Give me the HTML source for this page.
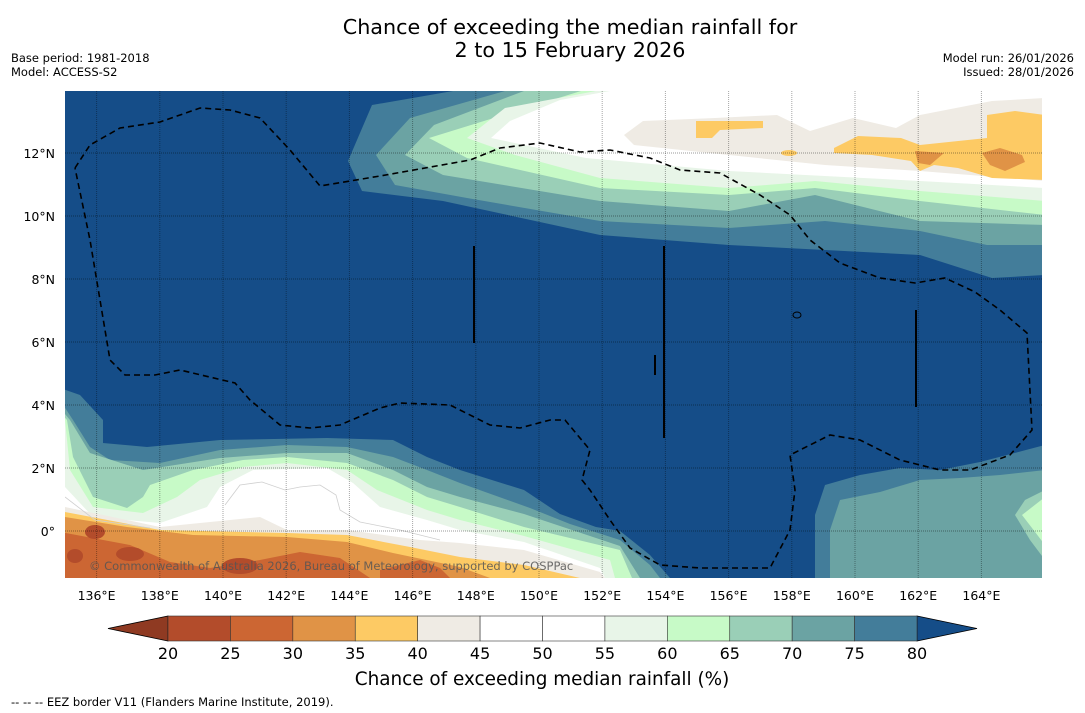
<!DOCTYPE html>
<html><head><meta charset="utf-8"><style>
body{margin:0;background:#fff;width:1085px;height:713px;overflow:hidden;font-family:"DejaVu Sans","Liberation Sans",sans-serif}
svg{position:absolute;left:0;top:0;font-family:"DejaVu Sans","Liberation Sans",sans-serif}
</style></head><body>
<svg id="s" width="1085" height="713" viewBox="0 0 1085 713">
<defs><clipPath id="c"><rect x="65" y="91" width="977" height="487"/></clipPath></defs>
<text x="570" y="34" font-size="20.7" text-anchor="middle">Chance of exceeding the median rainfall for</text>
<text x="570" y="57" font-size="20.7" text-anchor="middle">2 to 15 February 2026</text>
<text x="11" y="62" font-size="11.5">Base period: 1981-2018</text>
<text x="11" y="76" font-size="11.5">Model: ACCESS-S2</text>
<text x="1074" y="62" font-size="11.5" text-anchor="end">Model run: 26/01/2026</text>
<text x="1074" y="76" font-size="11.5" text-anchor="end">Issued: 28/01/2026</text>
<g clip-path="url(#c)">
<rect x="65" y="91" width="977" height="487" fill="#154d88"/>
<g>
<polygon fill="#437d9a" points="453,91 372,105 348,161 362,191 443,201 600,235 729,245 920,255 992,278 1045,275 1045,91"/>
<polygon fill="#6ba3a3" points="505,91 410,118 376,155 395,185 467,198 600,221 729,228 825,221 920,231 987,245 1045,245 1045,91"/>
<polygon fill="#9acfb7" points="524,91 434,125 405,155 443,175 600,201 729,211 815,195 920,221 1045,225 1045,91"/>
<polygon fill="#c7fac7" points="581,91 429,138 467,158 600,188 729,195 815,188 920,201 1045,215 1045,91"/>
<polygon fill="#e8f5e8" points="596,91 505,108 467,138 515,155 600,178 729,188 815,181 920,191 1045,201 1045,91"/>
<polygon fill="#ffffff" points="610,91 560,100 510,121 491,138 586,158 729,171 920,181 1045,188 1045,91"/>
<polygon fill="#efebe4" points="624,135 643,121 715,118 777,115 810,131 853,118 896,128 920,115 992,101 1045,98 1045,181 920,171 825,165 729,155 634,145"/>
<polygon fill="#fdca64" points="696,121 763,121 763,128 720,130 712,138 696,138"/>
<polygon fill="#fdca64" points="834,148 858,136 901,138 920,145 987,138 987,115 1015,111 1045,115 1045,180 992,178 958,168 934,165 920,171 911,161 872,155 834,153"/>
<ellipse cx="789" cy="153" rx="8" ry="3" fill="#fdca64"/>
<polygon fill="#e09346" points="915,151 944,153 930,165 918,163"/>
<polygon fill="#e09346" points="982,153 1000,148 1022,155 1025,162 1005,171 990,165"/>
</g>
<g>
<polygon fill="#437d9a" points="60,388 80,395 103,420 103,443 147,447 220,440 327,438 393,440 427,457 460,470 524,490 560,514 596,527 620,531 650,555 670,578 60,578"/>
<polygon fill="#6ba3a3" points="60,400 73,420 90,447 110,460 160,463 220,450 287,445 347,447 393,457 427,470 460,483 530,508 570,524 620,540 650,565 660,578 60,578"/>
<polygon fill="#9acfb7" points="60,408 70,420 90,453 143,470 220,458 287,453 347,453 393,470 427,487 460,497 524,514 620,546 640,578 60,578"/>
<polygon fill="#c7fac7" points="60,412 67,420 73,457 93,497 127,508 143,497 150,485 193,470 243,460 287,457 347,463 393,480 427,497 460,507 524,527 620,550 632,578 60,578"/>
<polygon fill="#e8f5e8" points="60,415 65,420 70,470 93,507 143,513 177,497 200,480 243,467 287,463 347,470 377,490 427,510 460,520 524,536 610,560 615,578 60,578"/>
<polygon fill="#ffffff" points="60,480 65,487 93,517 160,523 207,507 220,487 253,470 327,468 353,483 380,507 427,520 460,530 524,542 600,568 605,578 60,578"/>
<polygon fill="#efebe4" points="60,505 65,507 160,527 260,517 287,530 347,530 420,540 460,543 524,550 600,572 605,578 60,578"/>
<polygon fill="#fdca64" points="60,510 65,512 160,530 287,533 347,535 410,547 460,557 524,565 580,578 60,578"/>
<polygon fill="#e09346" points="60,515 65,517 127,527 193,535 287,537 347,542 393,553 460,567 490,578 60,578"/>
<polygon fill="#cc6633" points="60,532 130,545 170,562 210,568 260,560 300,552 340,558 370,578 60,578"/>
<polygon fill="#cc6633" points="380,570 420,560 440,568 450,578 380,578"/>
<ellipse cx="95" cy="532" rx="10" ry="7" fill="#b34c2b"/>
<ellipse cx="130" cy="554" rx="14" ry="7" fill="#b34c2b"/>
<ellipse cx="240" cy="566" rx="18" ry="8" fill="#b34c2b"/>
<ellipse cx="75" cy="556" rx="8" ry="7" fill="#b34c2b"/>
<polygon fill="#437d9a" points="815,578 815,515 825,485 860,475 900,468 940,470 980,462 1045,445 1045,578"/>
<polygon fill="#6ba3a3" points="830,578 830,530 840,500 880,492 920,480 960,478 1000,475 1045,470 1045,578"/>
<polygon fill="#9acfb7" points="1015,515 1025,500 1045,490 1045,560 1030,540"/>
<polygon fill="#c7fac7" points="1022,515 1045,497 1045,545 1032,528"/>
</g>
<g fill="none" stroke="#cfcfcf" stroke-width="0.8">
<polyline points="225,505 240,485 262,482 285,490 300,487 320,485 336,495 340,510 360,522 400,530 440,540"/>
<polyline points="65,497 95,520 150,528"/>
</g>
<g id="grid"></g>
<polyline fill="none" stroke="#000" stroke-width="1.6" stroke-dasharray="6,4" points="75,168 90,145 120,128 160,122 200,108 230,110 260,118 290,150 320,186 380,176 470,160 500,148 540,143 580,152 610,150 650,158 680,170 720,173 760,195 790,215 810,240 840,263 880,278 915,283 945,278 975,292 1000,310 1027,333 1032,430 1010,455 970,470 940,470 900,460 860,440 830,435 790,455 795,490 790,530 770,568 700,568 660,565 630,548 610,520 590,490 582,480 590,450 565,420 550,420 520,428 490,425 460,410 450,405 400,403 380,408 340,425 310,428 280,425 250,400 235,383 180,370 155,375 125,375 110,360 100,300 90,240 75,168"/>
<g stroke="#000" stroke-width="2">
<line x1="474" y1="246" x2="474" y2="343"/><line x1="664" y1="246" x2="664" y2="438"/><line x1="916" y1="310" x2="916" y2="407"/><line x1="655" y1="355" x2="655" y2="375"/>
</g>
<ellipse cx="797" cy="315" rx="4" ry="3" fill="none" stroke="#000"/>
<text x="89" y="570" font-size="11.5" fill="#555" fill-opacity="0.85">© Commonwealth of Australia 2026, Bureau of Meteorology, supported by COSPPac</text>
</g>
<g id="axes"></g>
<g id="cbar"></g>
<text x="542" y="685" font-size="18.4" text-anchor="middle">Chance of exceeding median rainfall (%)</text>
<text x="11" y="706" font-size="11.5">--  --  -- EEZ border V11 (Flanders Marine Institute, 2019).</text>
</svg>
<script>
const lonTicks=[136,138,140,142,144,146,148,150,152,154,156,158,160,162,164];
const latTicks=[0,2,4,6,8,10,12];
const cbLevels=[20,25,30,35,40,45,50,55,60,65,70,75,80];
const cbColors=["#b34c2b","#cc6633","#e09346","#fdca64","#efebe4","#ffffff","#ffffff","#e8f5e8","#c7fac7","#9acfb7","#6ba3a3","#437d9a"];
const NS="http://www.w3.org/2000/svg";
const lonX=l=>65+(l-135)*31.6;
const latY=l=>531-l*31.5;
const cbX=v=>168+(v-20)*(917-168)/60;
function mk(t,a,p){const e=document.createElementNS(NS,t);for(const k in a)e.setAttribute(k,a[k]);p.appendChild(e);return e;}
const grid=document.getElementById('grid'),axes=document.getElementById('axes'),cb=document.getElementById('cbar');
lonTicks.forEach(l=>{
 const g=mk('line',{x1:lonX(l),x2:lonX(l),y1:91,y2:578,stroke:'#000','stroke-opacity':0.35,'stroke-width':1,'stroke-dasharray':'1,1'},grid);
 
 
 const t=mk('text',{x:lonX(l),y:600,'font-size':12.5,'text-anchor':'middle'},axes);t.textContent=l+'°E';
 
 
});
latTicks.forEach(l=>{
 const g=mk('line',{x1:65,x2:1042,y1:latY(l),y2:latY(l),stroke:'#000','stroke-opacity':0.4,'stroke-width':1,'stroke-dasharray':'1,1'},grid);
 
 
 const t=mk('text',{x:55,y:latY(l)+5,'font-size':12.5,'text-anchor':'end'},axes);t.textContent=l===0?'0°':l+'°N';
 
 
});
const y0=616,h=25;
const lt=mk('polygon',{points:`108,${y0+h/2} ${cbX(20)},${y0} ${cbX(20)},${y0+h}`,fill:'#8f3a22',stroke:'#000','stroke-width':0.8},cb);


const rt=mk('polygon',{points:`977,${y0+h/2} ${cbX(80)},${y0} ${cbX(80)},${y0+h}`,fill:'#154d88',stroke:'#000','stroke-width':0.8},cb);


cbColors.forEach((c,i)=>{
 const r=mk('rect',{x:cbX(cbLevels[i]),y:y0,width:cbX(cbLevels[i+1])-cbX(cbLevels[i]),height:h,fill:c,stroke:'#333','stroke-width':0.6},cb);
 
 
});
cbLevels.forEach(v=>{
 const t=mk('text',{x:cbX(v),y:659,'font-size':16,'text-anchor':'middle'},cb);t.textContent=v;
 
 
});
</script>
</body></html>
